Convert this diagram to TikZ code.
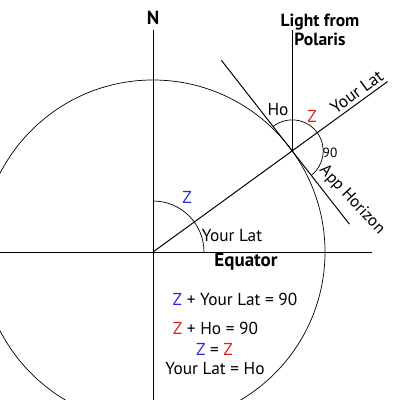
\documentclass[tikz,border=0pt]{standalone}
\usepackage{fontspec}
\setmainfont{PT Sans}
\usetikzlibrary{calc}
\definecolor{zblue}{RGB}{40,40,220}
\definecolor{zred}{RGB}{225,30,30}
\begin{document}
\begin{tikzpicture}[x=0.025cm,y=0.025cm,
  lbl/.style={inner sep=0pt,font=\fontsize{12.3}{14}\selectfont},
  big/.style={inner sep=0pt,font=\fontsize{13.5}{15}\selectfont\bfseries},
  ln/.style={line width=0.7pt},
  thin/.style={line width=0.5pt}]
\useasboundingbox (0,0) rectangle (400,400);
\coordinate (C) at (153,148);
\coordinate (P) at ($(C)+(36:172)$);
\begin{scope}
\clip (0,0) rectangle (400,400);
\draw[thin] (C) circle (172);
\end{scope}
\coordinate (Ntop) at (153,370);
\coordinate (Nbot) at (153,0);
\coordinate (Eleft) at (0,148);
\coordinate (Eright) at (372,148);
\coordinate (Lend) at ($(C)+(36:290)$);
\coordinate (Ptop) at ($(P)+(0,121)$);
\coordinate (H1) at ($(P)+(128:115)$);
\coordinate (H2) at ($(P)+(-52:93)$);
\draw[ln] (Ntop) -- (Nbot);
\draw[ln] (Eleft) -- (Eright);
\draw[ln] (C) -- (Lend);
\draw[ln] (P) -- (Ptop);
\draw[ln] (H1) -- (H2);
\draw[thin] ($(C)+(0,51)$) arc (90:0:51);
\draw[thin] ($(P)+(128:31)$) arc (128:-52:31);
\node[big] (N) at (153,382) {N};
\node[lbl,align=center,font=\fontsize{12.5}{14}\selectfont\bfseries] (pol) at (320,370) {Light from\\Polaris};
\node[lbl] (ho) at (278,290) {Ho};
\node[lbl,text=zred] (zr) at (312,284) {Z};
\node[lbl,rotate=36,anchor=south,inner sep=2.5pt] (yl1) at ($(C)+(36:259)$) {Your Lat};
\node[lbl,font=\fontsize{9.5}{11}\selectfont] (n90) at (330,247) {90};
\node[lbl,rotate=-47,font=\fontsize{11.8}{13}\selectfont] (app) at (352,200) {App Horizon};
\node[lbl,text=zblue] (zb) at (187,203) {Z};
\node[lbl] (yl2) at (232,164) {Your Lat};
\node[big] (eq) at (246,138) {Equator};
\node[lbl] (e1) at (235,101) {\textcolor{zblue}{Z} + Your Lat = 90};
\node[lbl] (e2) at (215.5,72) {\textcolor{zred}{Z} + Ho = 90};
\node[lbl] (e3) at (214.5,51) {\textcolor{zblue}{Z} = \textcolor{zred}{Z}};
\node[lbl] (e4) at (215,31) {Your Lat = Ho};
\end{tikzpicture}
\end{document}
